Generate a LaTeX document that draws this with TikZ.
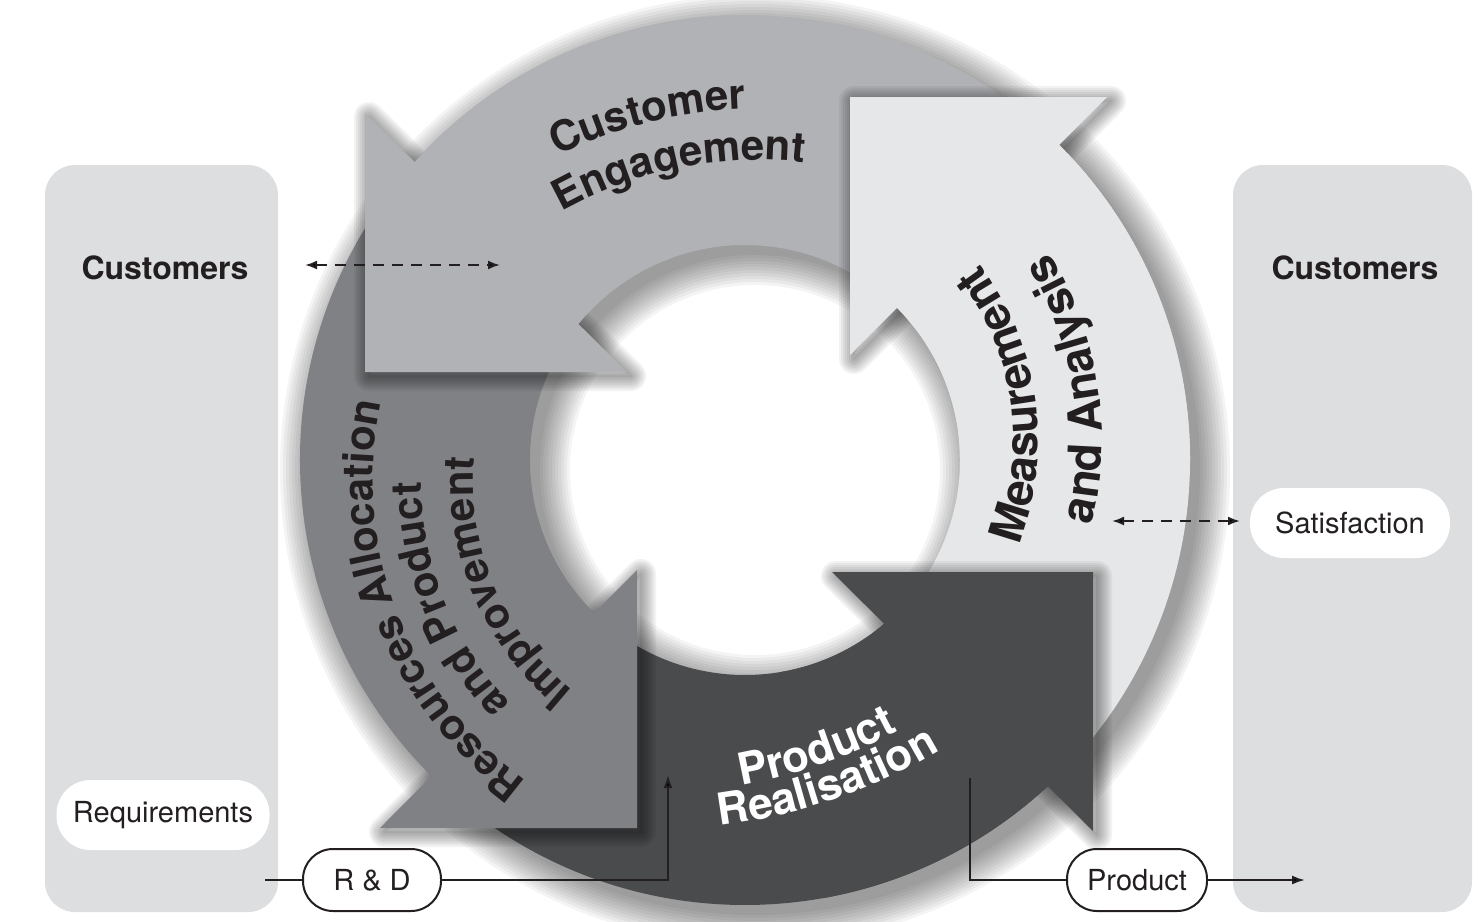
\documentclass[tikz,border=0pt]{standalone}
\usepackage{fontspec}
\setmainfont{TeX Gyre Heros}
\usetikzlibrary{calc,decorations.text,arrows.meta}
\definecolor{ceC}{HTML}{B1B2B5}
\definecolor{maC}{HTML}{E6E7E8}
\definecolor{prC}{HTML}{4A4B4D}
\definecolor{raC}{HTML}{808184}
\definecolor{panelC}{HTML}{DCDEE0}
\definecolor{inkC}{HTML}{231F20}
\newcommand\ringsector[2]{($(C)+(#1:445)$) arc[start angle=#1, end angle=#2, radius=445] -- ($(C)+(#2:215)$) arc[start angle=#2, end angle=#1, radius=215] -- cycle}
\newcommand\arctext[7]{%
  \path[decorate, decoration={text along path, text align=center, text color=#5,
     text={|\fontsize{#7}{#7}\selectfont\bfseries|#6}}]
    ($(#1)+(#3:#2)$) arc[start angle=#3, end angle=#4, radius=#2];}
\begin{document}
\begin{tikzpicture}[x=1pt,y=-1pt,
  panel/.style={fill=panelC, rounded corners=30pt},
  headlabel/.style={font=\fontsize{32}{38}\selectfont\bfseries, text=inkC},
  softpill/.style={fill=white, rounded corners=34pt, minimum height=70pt, inner sep=0pt, font=\fontsize{29}{34}\selectfont, text=inkC},
  linepill/.style={draw=inkC, line width=2pt, fill=white, rounded corners=30pt, minimum height=62pt, inner sep=0pt, font=\fontsize{29}{34}\selectfont, text=inkC},
  conn/.style={draw=inkC, line width=2pt},
  arr/.style={conn, -{Latex[length=13pt,width=9pt]}},
  dasharr/.style={conn, dash pattern=on 11pt off 8pt, {Latex[length=12pt,width=9pt]}-{Latex[length=12pt,width=9pt]}},
  shadowlayer/.style={fill=black, opacity=0.045},
  glowlayer/.style={draw=black, opacity=0.05, line join=round}]
\useasboundingbox (0,0) rectangle (1482,921);
\coordinate (C) at (745,460);
\coordinate (S) at (755,470);
% side panels
\fill[panel] (45,165) rectangle (278,912);
\fill[panel] (1233,165) rectangle (1472,912);
% ring shadow
\foreach \d in {0,3,...,30}{
  \pgfmathsetmacro\ro{445+\d}\pgfmathsetmacro\ri{215-\d}
  \fill[shadowlayer, even odd rule] (S) circle[radius=\ro] (S) circle[radius=\ri];
}
% shafts
\fill[ceC] \ringsector{308}{214};
\fill[raC] \ringsector{214}{128};
\fill[prC] \ringsector{128}{43};
\fill[maC] \ringsector{43}{-52};
% head shadows (soft glow)
\foreach \tx/\ty/\ax/\ay/\bx/\by in {
  365/372/365/113/627/372,
  850/97/1107/97/850/355,
  1093/572/832/572/1093/831,
  637/828/637/570/380/828}{
  \foreach \w in {2,6,...,30}{
    \draw[glowlayer, line width=\w, shift={(4,4)}] (\tx,\ty) -- (\ax,\ay) -- (\bx,\by) -- cycle;
  }
}
% shaft ends again (over own head shadow)
\fill[ceC] \ringsector{250}{214};
\fill[raC] \ringsector{165}{128};
\fill[prC] \ringsector{80}{43};
\fill[maC] \ringsector{0}{-52};
% heads
\fill[ceC] (365,372) -- (365,113) -- (627,372) -- cycle;
\fill[maC] (850,97) -- (1107,97) -- (850,355) -- cycle;
\fill[prC] (1093,572) -- (832,572) -- (1093,831) -- cycle;
\fill[raC] (637,828) -- (637,570) -- (380,828) -- cycle;
% ring texts
\coordinate (ceO) at (760,567);
\coordinate (prO) at (650,265);
\coordinate (raO) at (745,480);
\coordinate (maO) at (745,440);
\arctext{ceO}{458}{211}{301}{inkC}{Customer}{42}
\arctext{ceO}{407}{213.5}{303.5}{inkC}{Engagement}{42}
\arctext{prO}{528}{111}{31}{white}{Product}{44}
\arctext{prO}{565}{111}{31}{white}{Realisation}{44}
\arctext{raO}{372}{99}{219}{inkC}{Resources Allocation}{42}
\arctext{raO}{324}{98}{218}{inkC}{and Product}{42}
\arctext{raO}{272}{97}{217}{inkC}{Improvement}{42}
\arctext{maO}{293}{52}{-68}{inkC}{Measurement}{46}
\arctext{maO}{357}{51}{-69}{inkC}{and Analysis}{46}
% labels and pills
\node[headlabel] (custL) at (165,268) {Customers};
\node[headlabel] (custR) at (1355,268) {Customers};
\node[softpill, minimum width=213pt] (req) at (163,815) {Requirements};
\node[softpill, minimum width=200pt] (sat) at (1350,523) {Satisfaction};
\node[linepill, minimum width=138pt] (rd) at (372,880) {R \& D};
\node[linepill, minimum width=140pt] (prod) at (1137,880) {Product};
% connectors
\coordinate (rdin) at (265,880);
\coordinate (rdtip) at (668,775);
\coordinate (pstart) at (970,778);
\coordinate (pend) at (1305,880);
\draw[conn] (rdin) -- (rd.west);
\draw[arr] (rd.east) -| (rdtip);
\draw[conn] (pstart) |- (prod.west);
\draw[arr] (prod.east) -- (pend);
\coordinate (dA) at (305,265);
\coordinate (dB) at (500,265);
\coordinate (dC) at (1112,521);
\coordinate (dD) at (1240,521);
\draw[dasharr] (dA) -- (dB);
\draw[dasharr] (dC) -- (dD);
\end{tikzpicture}
\end{document}
